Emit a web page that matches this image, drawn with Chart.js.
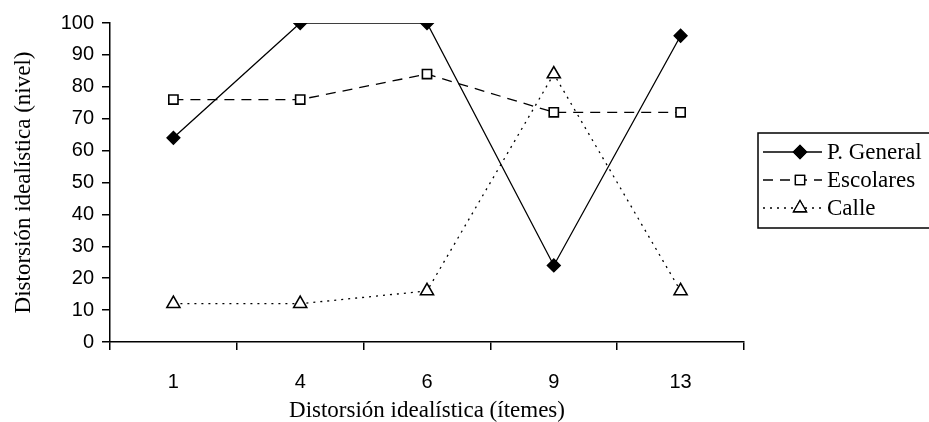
<!DOCTYPE html>
<html><head><meta charset="utf-8">
<script src="https://cdn.jsdelivr.net/npm/chart.js@4/dist/chart.umd.min.js"></script>
<style>html,body{margin:0;padding:0;background:#fff}#wrap{width:929px;height:422px}</style>
</head><body><div id="wrap"><canvas id="c" width="929" height="422"></canvas></div>
<script>
const categories = ['1', '4', '6', '9', '13'];
const pGeneral = [64, 100, 100, 24, 96];
const escolares = [76, 76, 84, 72, 72];
const calle = [12, 12, 16, 84, 16];
const seriesNames = ['P. General', 'Escolares', 'Calle'];
const yTitle = 'Distorsión idealística (nivel)';
const xTitle = 'Distorsión idealística (ítemes)';

const serif = "'Liberation Serif', 'Times New Roman', serif";
const sans = "'Liberation Sans', Arial, sans-serif";

const legendPlugin = {
  id: 'boxLegend',
  afterDraw(chart) {
    const ctx = chart.ctx;
    const x0 = 758, y0 = 133, w = 200, h = 95;
    ctx.save();
    ctx.strokeStyle = '#000';
    ctx.lineWidth = 1.5;
    ctx.strokeRect(x0, y0, w, h);
    const rows = [152, 180, 208];
    chart.data.datasets.forEach((ds, i) => {
      const y = rows[i];
      ctx.beginPath();
      ctx.setLineDash(ds.borderDash || []);
      ctx.lineWidth = 1.3;
      ctx.strokeStyle = '#000';
      ctx.moveTo(763, y); ctx.lineTo(822, y); ctx.stroke();
      ctx.setLineDash([]);
      Chart.helpers.drawPoint(ctx, {
        pointStyle: ds.pointStyle, radius: ds.pointRadius, rotation: 0,
        borderWidth: 1.3
      }, 800, y);
      ctx.fillStyle = ds.pointBackgroundColor;
      ctx.fill();
      ctx.stroke();
      ctx.fillStyle = '#000';
      ctx.font = '23px ' + serif;
      ctx.textBaseline = 'middle';
      ctx.textAlign = 'left';
      ctx.fillText(ds.label, 827, y + 1);
    });
    ctx.restore();
  }
};

new Chart(document.getElementById('c'), {
  type: 'line',
  data: {
    labels: categories,
    datasets: [
      { label: seriesNames[0], data: pGeneral, borderColor: '#000', borderWidth: 1.3,
        pointStyle: 'rectRot', pointRadius: 6.5, pointBackgroundColor: '#000', pointBorderColor: '#000' },
      { label: seriesNames[1], data: escolares, borderColor: '#000', borderWidth: 1.3, borderDash: [10, 7],
        pointStyle: 'rect', pointRadius: 6.5, pointBackgroundColor: '#fff', pointBorderColor: '#000', pointBorderWidth: 1.6 },
      { label: seriesNames[2], data: calle, borderColor: '#000', borderWidth: 1.3, borderDash: [2, 5],
        pointStyle: 'triangle', pointRadius: 7.5, pointBackgroundColor: '#fff', pointBorderColor: '#000', pointBorderWidth: 1.6 }
    ]
  },
  options: {
    responsive: false,
    animation: false,
    layout: { padding: { left: 0, top: 23, right: 185, bottom: 0 } },
    plugins: { legend: { display: false }, tooltip: { enabled: false } },
    scales: {
      x: {
        offset: true,
        grid: { offset: true, drawOnChartArea: false, drawTicks: true, tickLength: 8, color: '#000', lineWidth: 1.5 },
        border: { display: true, color: '#000', width: 1.5 },
        ticks: { color: '#000', font: { family: sans, size: 20 }, padding: 20 },
        title: { display: true, text: xTitle, color: '#000', font: { family: serif, size: 23 }, padding: { top: 0, bottom: -3 } },
        afterFit(s) { s.height = 80; }
      },
      y: {
        min: 0, max: 100,
        grid: { drawOnChartArea: false, drawTicks: true, tickLength: 8, color: '#000', lineWidth: 1.5 },
        border: { display: true, color: '#000', width: 1.5 },
        ticks: { stepSize: 10, color: '#000', font: { family: sans, size: 20 }, padding: 8 },
        title: { display: true, text: yTitle, color: '#000', font: { family: serif, size: 23 }, padding: { top: 10, bottom: 4 } },
        afterFit(s) { s.width = 110; }
      }
    }
  },
  plugins: [legendPlugin]
});
</script></body></html>
